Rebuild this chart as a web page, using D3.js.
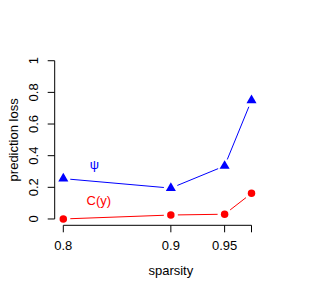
<!DOCTYPE html>
<html>
<head>
<meta charset="utf-8">
<script src="https://cdn.jsdelivr.net/npm/d3@7"></script>
<style>
  body { margin: 0; background: #fff; }
  text { font-family: "Liberation Sans", Arial, sans-serif; }
</style>
</head>
<body>
<div id="chart"></div>
<script>
// data
const sparsity = [0.8, 0.9, 0.95, 0.975];
const psiLoss = [0.255, 0.195, 0.335, 0.75];
const cyLoss = [0.0, 0.025, 0.03, 0.162];
const xTicks = [0.8, 0.9, 0.95, 0.975];
const xTickLabels = ["0.8", "0.9", "0.95", ""]; // last label dropped (overlap)
const yTicks = [0, 0.2, 0.4, 0.6, 0.8, 1];
const yTickLabels = ["0", "0.2", "0.4", "0.6", "0.8", "1"];
const seriesNames = ["\u03C8", "C(y)"];
const labelPos = [[0.829, 0.345], [0.833, 0.118]];

const width = 316, height = 294;
const plot = { left: 54.7, right: 287, top: 54.4, bottom: 225.3 };
const fontSize = "13px";

const svg = d3.select("#chart").append("svg")
  .attr("width", width).attr("height", height);

// R-style 4% range extension
const xlim = [0.8, 1.0], ylim = [0, 1];
const ext = (l) => [l[0] - 0.04 * (l[1] - l[0]), l[1] + 0.04 * (l[1] - l[0])];
const x = d3.scaleLinear().domain(ext(xlim)).range([plot.left, plot.right]);
const y = d3.scaleLinear().domain(ext(ylim)).range([plot.bottom, plot.top]);

////////////////////////////// AXES //////////////////////////////

const xAxis = svg.append("g")
  .attr("transform", `translate(0,${plot.bottom})`);
xAxis.append("line")
  .attr("x1", x(xTicks[0])).attr("x2", x(xTicks[xTicks.length - 1]))
  .attr("stroke", "#000");
xTicks.forEach((t, i) => {
  xAxis.append("line")
    .attr("x1", x(t)).attr("x2", x(t)).attr("y1", 0).attr("y2", 7)
    .attr("stroke", "#000");
  xAxis.append("text")
    .attr("x", x(t)).attr("y", 24.5)
    .attr("text-anchor", "middle")
    .style("font-size", fontSize)
    .text(xTickLabels[i]);
});

const yAxis = svg.append("g")
  .attr("transform", `translate(${plot.left},0)`);
yAxis.append("line")
  .attr("y1", y(yTicks[0])).attr("y2", y(yTicks[yTicks.length - 1]))
  .attr("stroke", "#000");
yTicks.forEach((t, i) => {
  yAxis.append("line")
    .attr("x1", 0).attr("x2", -7).attr("y1", y(t)).attr("y2", y(t))
    .attr("stroke", "#000");
  yAxis.append("text")
    .attr("transform", `translate(-17,${y(t)}) rotate(-90)`)
    .attr("text-anchor", "middle")
    .style("font-size", fontSize)
    .text(yTickLabels[i]);
});

svg.append("text")
  .attr("x", (plot.left + plot.right) / 2).attr("y", 275)
  .attr("text-anchor", "middle")
  .style("font-size", fontSize)
  .text("sparsity");

svg.append("text")
  .attr("transform", `translate(17.5,${(plot.top + plot.bottom) / 2}) rotate(-90)`)
  .attr("text-anchor", "middle")
  .style("font-size", fontSize)
  .text("prediction loss");

////////////////////////////// SERIES //////////////////////////////

// type="b": segments with a gap around each point
function drawSeries(values, color, symbol) {
  const pts = sparsity.map((s, i) => [x(s), y(values[i])]);
  const gap = 7;
  for (let i = 0; i < pts.length - 1; i++) {
    const [x1, y1] = pts[i], [x2, y2] = pts[i + 1];
    const len = Math.hypot(x2 - x1, y2 - y1);
    if (len <= 2 * gap) continue;
    const ux = (x2 - x1) / len, uy = (y2 - y1) / len;
    svg.append("line")
      .attr("x1", x1 + ux * gap).attr("y1", y1 + uy * gap)
      .attr("x2", x2 - ux * gap).attr("y2", y2 - uy * gap)
      .attr("stroke", color).attr("stroke-width", 1);
  }
  svg.selectAll(null)
    .data(pts)
    .join("path")
    .attr("transform", (d) => `translate(${d[0]},${d[1]})`)
    .attr("d", d3.symbol().type(symbol).size(symbol === d3.symbolCircle ? 44 : 44)())
    .attr("fill", color);
}

drawSeries(psiLoss, "#0000ff", d3.symbolTriangle);
drawSeries(cyLoss, "#ff0000", d3.symbolCircle);

svg.append("text")
  .attr("x", x(labelPos[0][0])).attr("y", y(labelPos[0][1]))
  .attr("dy", "0.35em")
  .attr("text-anchor", "middle")
  .attr("fill", "#0000ff")
  .style("font-size", fontSize)
  .text(seriesNames[0]);

svg.append("text")
  .attr("x", x(labelPos[1][0])).attr("y", y(labelPos[1][1]))
  .attr("dy", "0.35em")
  .attr("text-anchor", "middle")
  .attr("fill", "#ff0000")
  .style("font-size", fontSize)
  .text(seriesNames[1]);
</script>
</body>
</html>
